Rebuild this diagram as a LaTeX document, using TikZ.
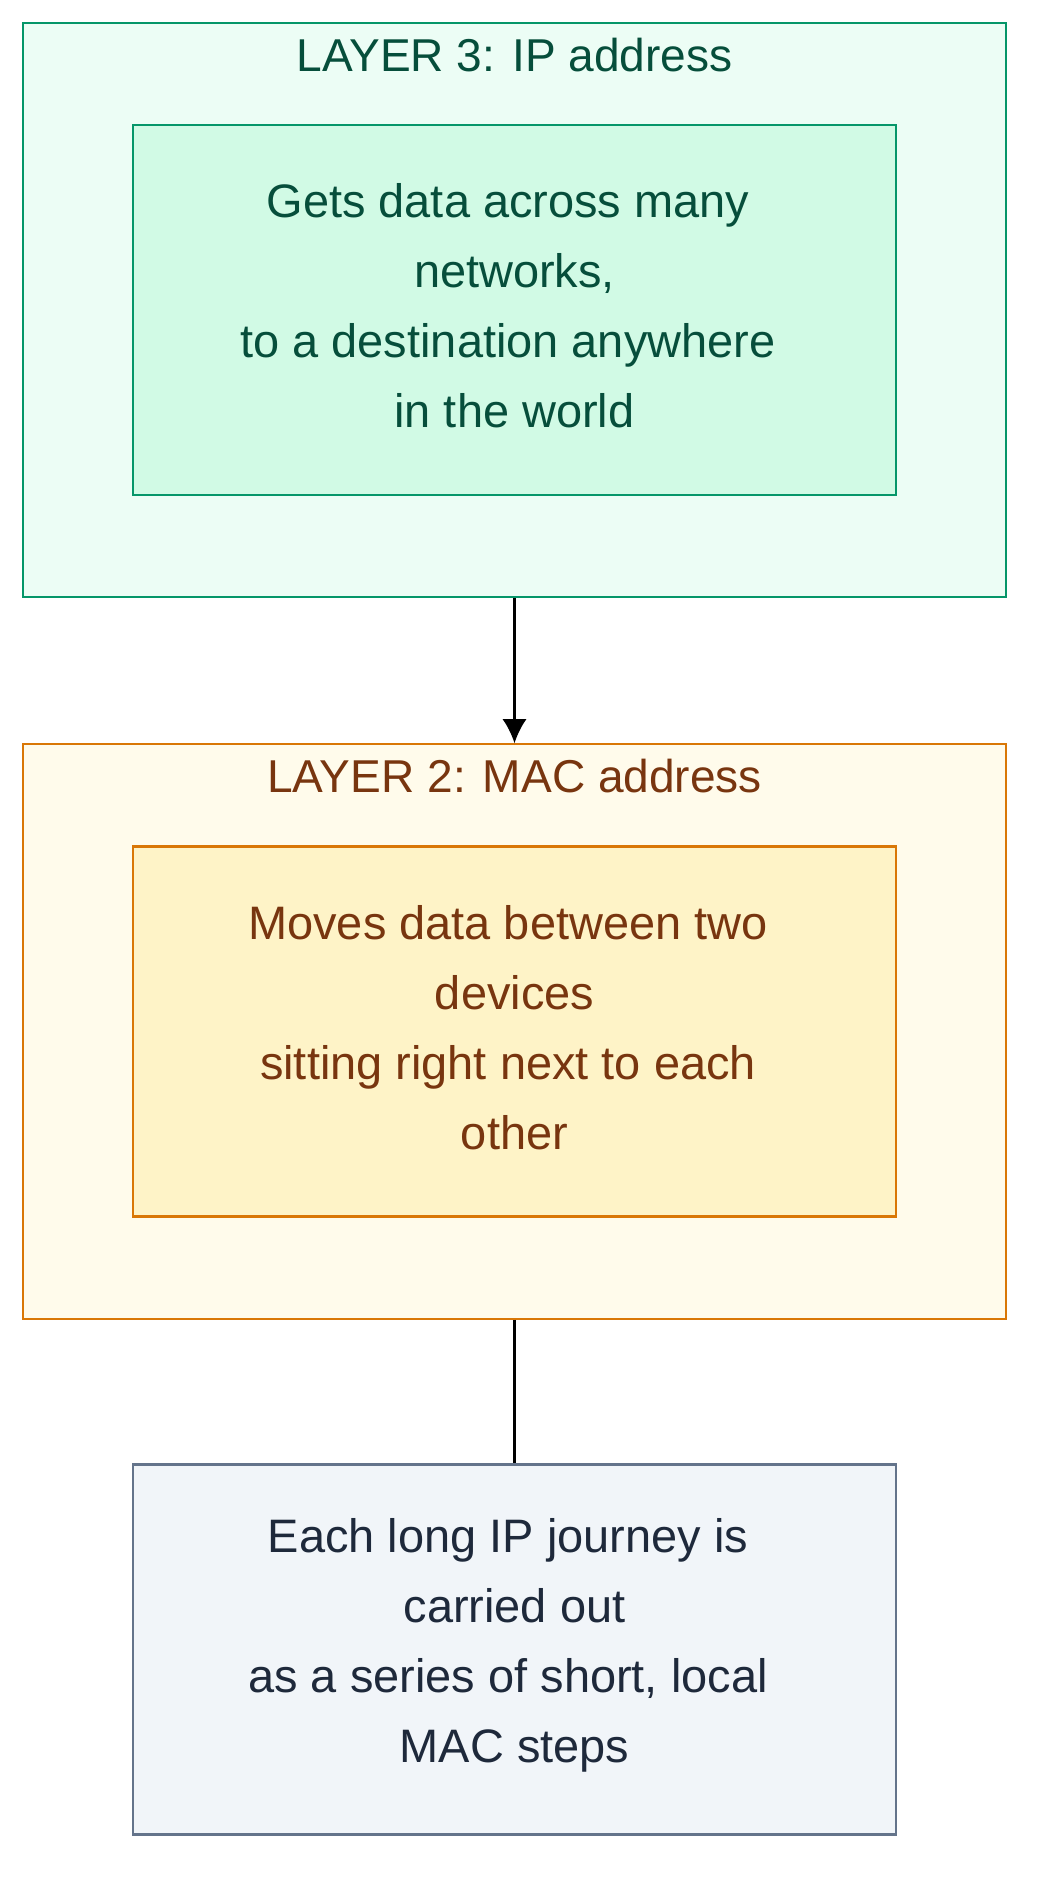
\documentclass[tikz,border=0pt]{standalone}
\usepackage{fontspec}
\setmainfont{Liberation Sans}
\usetikzlibrary{arrows.meta}

\definecolor{grnline}{HTML}{059669}
\definecolor{grnout}{HTML}{ECFDF5}
\definecolor{grnin}{HTML}{D1FAE5}
\definecolor{grntext}{HTML}{064E3B}
\definecolor{orgline}{HTML}{D97706}
\definecolor{orgout}{HTML}{FFFBEB}
\definecolor{orgin}{HTML}{FEF3C7}
\definecolor{orgtext}{HTML}{78350F}
\definecolor{slaline}{HTML}{64748B}
\definecolor{slafill}{HTML}{F1F5F9}
\definecolor{slatext}{HTML}{1E293B}

% trailing space kept on wrapped lines
\newcommand\trsp{\hbox to 0.278em{}}

\tikzset{
  layerbox/.style={draw, line width=0.65pt, minimum width=9.83cm, minimum height=5.74cm, inner sep=0pt},
  notebox/.style={draw, line width=0.65pt, minimum width=7.62cm, minimum height=3.70cm, inner sep=0pt},
  notetext/.style={align=center, inner sep=0pt, font=\fontsize{13.35}{19.9}\selectfont},
  titletext/.style={font=\fontsize{13.1}{19.9}\selectfont}
}

\begin{document}
\begin{tikzpicture}[x=0.01cm,y=-0.01cm,line width=0.65pt]

\useasboundingbox (0,0) rectangle (1053,1902);

\node [layerbox, draw=grnline, fill=grnout] (l3) at (514.5,310) {};
\node [titletext, text=grntext] (l3title) at (514.5,55) {LAYER 3: IP address};
\node [notebox, draw=grnline, fill=grnin] (l3note) at (514.5,310) {};
\node [notetext, text=grntext] (l3text) at (514.5,306)
  {Gets data across many\trsp\\networks,\\to a destination anywhere\trsp\\in the world};

\node [layerbox, draw=orgline, fill=orgout] (l2) at (514.5,1031.5) {};
\node [titletext, text=orgtext] (l2title) at (514.5,776) {LAYER 2: MAC address};
\node [notebox, draw=orgline, fill=orgin] (l2note) at (514.5,1031.5) {};
\node [notetext, text=orgtext] (l2text) at (514.5,1027.5)
  {Moves data between two\trsp\\devices\\sitting right next to each\trsp\\other};

\node [notebox, draw=slaline, fill=slafill] (steps) at (514.5,1649.5) {};
\node [notetext, text=slatext] (stepstext) at (514.5,1645.5)
  {Each long IP journey is\trsp\\carried out\\as a series of short, local\trsp\\MAC steps};

\draw [-{Latex[length=0.24cm,width=0.24cm]}] (l3.south) -- (l2.north);
\draw [-] (l2.south) -- (steps.north);

\end{tikzpicture}
\end{document}
